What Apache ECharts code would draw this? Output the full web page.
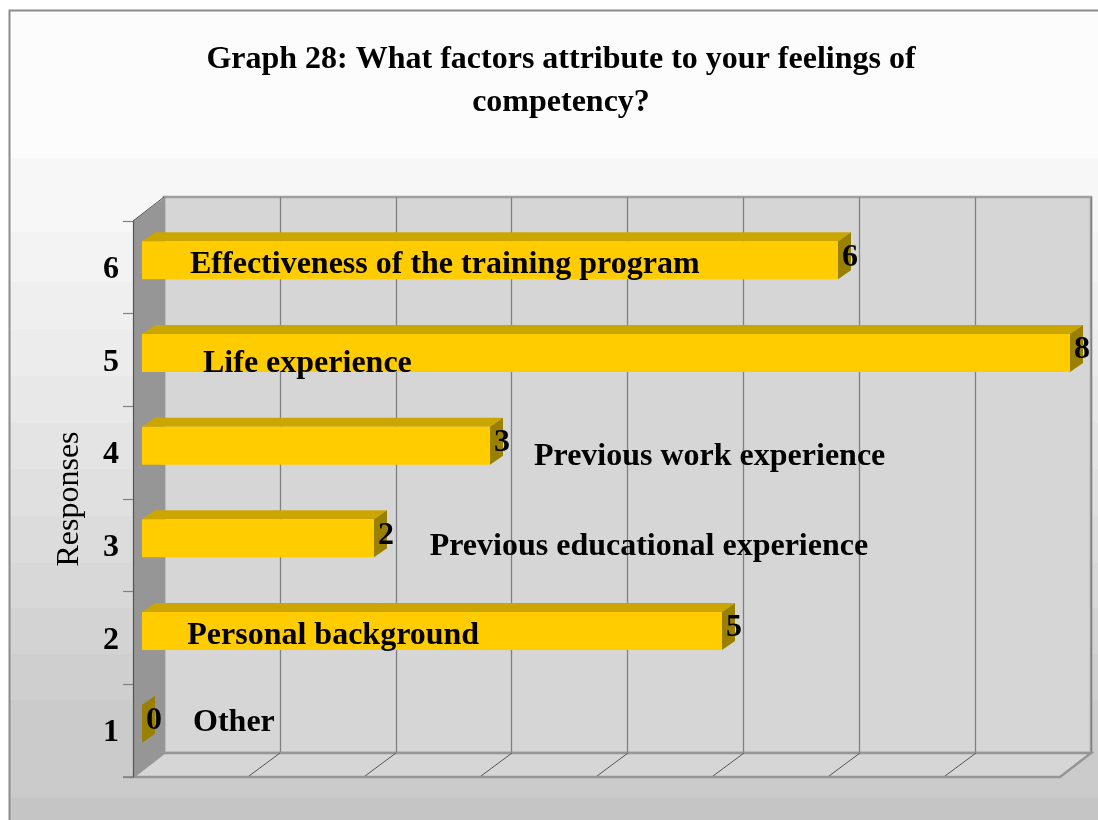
<!DOCTYPE html>
<html><head><meta charset="utf-8">
<style>html,body{margin:0;padding:0;background:#fff}#c{width:1098px;height:820px}</style>
<script src="https://cdn.jsdelivr.net/npm/echarts@6/dist/echarts.min.js"></script>
</head><body><div id="c"></div>
<script>
const titleText = 'Graph 28: What factors attribute to your feelings of\ncompetency?';
const axisName = 'Responses';
const categories = ['1','2','3','4','5','6'];
const values = [0,5,2,3,8,6];
const factorNames = ['Other','Personal background','Previous educational experience','Previous work experience','Life experience','Effectiveness of the training program'];
const factorNameStart = [0.44,0.39,2.48,3.379,0.526,0.414];
const factorNameShift = [-8,-2,1.5,4,4,-2.5];
const valueTicks = [1,2,3,4,5,6,7];

const SERIF = '"Liberation Serif","Times New Roman",serif';
const W = 928, DX = 31, DY = 24, BX = 9, BY = 7, SX = 13, SY = 9;
const bandY = [10,156,229,279,325,371,417,463,509,555,600,645,690,787,820];
const bandC = ['#fcfcfc','#f7f7f7','#f3f3f3','#efefef','#ececec','#e8e8e8','#e4e4e4','#e0e0e0','#dcdcdc','#d8d8d8','#d3d3d3','#cfcfcf','#cbcbcb','#c5c5c5'];
const stops = [];
bandC.forEach((c,i)=>{stops.push({offset:(bandY[i]-10)/810,color:c});stops.push({offset:(bandY[i+1]-10)/810,color:c});});

const poly=(pts,fill,z)=>({type:'polygon',z2:z||0,shape:{points:pts},style:{fill:fill}});

const chart = echarts.init(document.getElementById('c'),null,{renderer:'canvas'});
chart.setOption({
  animation:false,
  backgroundColor:'#ffffff',
  graphic:[{type:'rect',z:-10,silent:true,shape:{x:9.5,y:10.5,width:1100,height:820},
    style:{fill:new echarts.graphic.LinearGradient(0,0,0,1,stops),stroke:'#8c8c8c',lineWidth:2}}],
  title:{text:titleText,left:556,top:33,textAlign:'center',
    textStyle:{fontFamily:SERIF,fontWeight:'bold',fontSize:32,lineHeight:43,color:'#000'}},
  grid:[
    {left:164,top:197,width:927,height:556,show:true,backgroundColor:'#d6d6d6',borderColor:'#a0a0a0',borderWidth:2.5,z:0},
    {left:133,top:221,width:W,height:556,show:false}
  ],
  xAxis:[
    {gridIndex:0,type:'value',min:0,max:8,interval:1,axisLabel:{show:false},axisTick:{show:false},axisLine:{show:false},
      splitLine:{show:true,lineStyle:{color:'#808080',width:1.3}}},
    {gridIndex:1,type:'value',min:0,max:8,interval:1,axisLabel:{show:false},axisTick:{show:false},axisLine:{show:false},splitLine:{show:false}}
  ],
  yAxis:[
    {gridIndex:0,type:'category',data:categories,axisLabel:{show:false},axisTick:{show:false},axisLine:{show:false},splitLine:{show:false}},
    {gridIndex:1,type:'category',data:categories,z:5,
      name:axisName,nameLocation:'middle',nameGap:47,nameRotate:90,
      nameTextStyle:{fontFamily:SERIF,fontSize:32,color:'#000'},
      axisLine:{show:true,lineStyle:{color:'#555555',width:1.2}},
      axisTick:{show:true,length:10,lineStyle:{color:'#808080',width:1.2}},
      axisLabel:{margin:14,formatter:'{d|{value}}',
        rich:{d:{fontFamily:SERIF,fontWeight:'bold',fontSize:32,color:'#000',padding:[5,0,0,0]}}},
      splitLine:{show:false}}
  ],
  series:[
    { // side wall and floor
      type:'custom',xAxisIndex:1,yAxisIndex:1,coordinateSystem:'cartesian2d',z:2,silent:true,clip:false,
      data:[[0,0]],
      renderItem:(p,api)=>{
        const a=api.coord([0,0]),b=api.coord([8,0]);
        const h=api.size([0,1])[1], yb=a[1]+h/2, yt=yb-556, xl=a[0], xr=b[0];
        return {type:'group',children:[
          {type:'polygon',shape:{points:[[xl,yb],[xl+DX,yb-DY],[xr+DX-1,yb-DY],[xr-1,yb]]},style:{fill:'#d6d6d6',stroke:'#969696',lineWidth:2.5}},
          poly([[xl,yt],[xl+DX+1,yt-DY],[xl+DX+1,yb-DY],[xl,yb]],'#969696',1),
          {type:'line',z2:2,shape:{x1:xl,y1:yt,x2:xl+DX,y2:yt-DY},style:{stroke:'#555',lineWidth:1}},
          {type:'line',z2:2,shape:{x1:xl-10,y1:yb,x2:xl,y2:yb},style:{stroke:'#808080',lineWidth:1.5}}
        ]};
      }
    },
    { // floor grid lines
      type:'custom',xAxisIndex:1,yAxisIndex:1,z:3,silent:true,clip:false,
      data:valueTicks.map(v=>[v,0]),
      renderItem:(p,api)=>{
        const a=api.coord([api.value(0),0]),h=api.size([0,1])[1],yb=a[1]+h/2;
        return {type:'line',shape:{x1:a[0],y1:yb-1,x2:a[0]+DX,y2:yb-DY},style:{stroke:'#555555',lineWidth:1}};
      }
    },
    { // 3D bars
      type:'custom',xAxisIndex:1,yAxisIndex:1,z:4,clip:false,
      data:values.map((v,i)=>[v,i]),
      encode:{x:0,y:1},
      renderItem:(p,api)=>{
        const v=api.value(0),i=api.value(1);
        const o=api.coord([0,i]),e=api.coord([v,i]),h=api.size([0,1])[1]*0.41;
        const x0=o[0]+BX,x1=e[0]+BX,yc=o[1]-BY,t=yc-h/2,b=yc+h/2;
        const kids=[];
        if(v>0){
          kids.push(poly([[x0,t],[x0+SX,t-SY],[x1+SX,t-SY],[x1,t]],'#cca600'));
          kids.push({type:'rect',shape:{x:x0,y:t,width:x1-x0,height:b-t},style:{fill:'#ffcc00'}});
        }
        kids.push(poly([[x1,t],[x1+SX,t-SY],[x1+SX,b-SY],[x1,b]],'#998000'));
        return {type:'group',children:kids};
      }
    },
    { // value and factor labels
      type:'custom',xAxisIndex:1,yAxisIndex:1,z:6,silent:true,clip:false,
      data:values.map((v,i)=>[v,i]),
      renderItem:(p,api)=>{
        const v=api.value(0),i=api.value(1);
        const o=api.coord([0,i]),e=api.coord([v,i]),n=api.coord([factorNameStart[i],i]);
        const font='bold 32px '+SERIF;
        return {type:'group',children:[
          {type:'text',style:{text:String(v),x:e[0]+BX+12,y:o[1]-BY-3,font:font,fill:'#000',textAlign:'center',textVerticalAlign:'middle'}},
          {type:'text',style:{text:factorNames[i],x:n[0]+BX,y:o[1]+factorNameShift[i],font:font,fill:'#000',textAlign:'left',textVerticalAlign:'middle'}}
        ]};
      }
    }
  ]
});
</script></body></html>
